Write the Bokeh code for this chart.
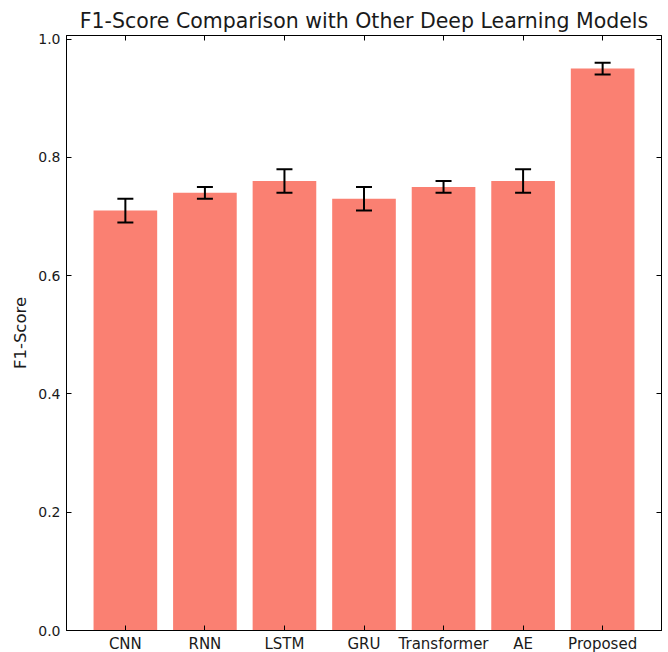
from bokeh.plotting import figure
from bokeh.models import (ColumnDataSource, Range1d, FixedTicker, LinearAxis,
                          Whisker, TeeHead)
from bokeh.embed import file_html
from bokeh.resources import INLINE

models = ["CNN", "RNN", "LSTM", "GRU", "Transformer", "AE", "Proposed"]
f1_scores = [0.71, 0.74, 0.76, 0.73, 0.75, 0.76, 0.95]
f1_errors = [0.02, 0.01, 0.02, 0.02, 0.01, 0.02, 0.01]
y_ticks = [0.0, 0.2, 0.4, 0.6, 0.8, 1.0]

xs = list(range(len(models)))
src = ColumnDataSource(dict(
    x=xs, top=f1_scores,
    lower=[v - e for v, e in zip(f1_scores, f1_errors)],
    upper=[v + e for v, e in zip(f1_scores, f1_errors)],
))

FONT = "DejaVu Sans"
p = figure(frame_width=595, frame_height=595, output_backend="svg",
           toolbar_location=None,
           x_range=Range1d(-0.74, 6.74), y_range=Range1d(0, 1.006),
           min_border_left=66, min_border_right=2, min_border_top=35,
           min_border_bottom=10,
           title="F1-Score Comparison with Other Deep Learning Models")
p.title.text_font = FONT
p.title.text_font_size = "20.5px"
p.title.text_font_style = "normal"
p.title.align = "center"
p.title.text_color = "#1a1a1a"
p.title.standoff = 6

p.grid.visible = False
p.outline_line_color = "black"
p.outline_line_width = 1

p.vbar(x="x", top="top", width=0.8, bottom=0, source=src,
       fill_color="#FA8072", line_color=None)

w = Whisker(base="x", lower="lower", upper="upper", source=src,
            line_color="black", line_width=2, level="overlay",
            upper_head=TeeHead(size=16, line_color="black", line_width=2),
            lower_head=TeeHead(size=16, line_color="black", line_width=2))
p.add_layout(w)

def style(ax):
    ax.major_tick_in = 5
    ax.major_tick_out = 0
    ax.minor_tick_in = 0
    ax.minor_tick_out = 0
    ax.axis_line_color = "black"
    ax.major_tick_line_color = "black"
    ax.major_label_text_font = FONT
    ax.major_label_text_font_size = "14px"
    ax.major_label_text_color = "#1a1a1a"

p.xaxis.ticker = FixedTicker(ticks=xs)
p.xaxis.major_label_overrides = {i: m for i, m in enumerate(models)}
p.yaxis.ticker = FixedTicker(ticks=y_ticks)
p.yaxis.major_label_overrides = {t: f"{t:.1f}" for t in y_ticks}
style(p.xaxis[0])
style(p.yaxis[0])
p.xaxis.major_label_text_font_size = "15px"
p.xaxis.major_label_standoff = 4
p.yaxis.major_label_standoff = 6
p.yaxis.axis_label = "F1-Score"
p.yaxis.axis_label_text_font = FONT
p.yaxis.axis_label_text_font_size = "16.5px"
p.yaxis.axis_label_text_font_style = "normal"
p.yaxis.axis_label_text_color = "#1a1a1a"
p.yaxis.axis_label_standoff = 5

top_ax = LinearAxis(ticker=FixedTicker(ticks=xs))
style(top_ax)
top_ax.major_label_overrides = {i: "" for i in xs}
top_ax.major_label_standoff = 0
p.add_layout(top_ax, "above")
right_ax = LinearAxis(ticker=FixedTicker(ticks=y_ticks))
style(right_ax)
right_ax.major_label_overrides = {t: "" for t in y_ticks}
right_ax.major_label_standoff = 0
p.add_layout(right_ax, "right")

open("out.html", "w").write(file_html(p, INLINE))
